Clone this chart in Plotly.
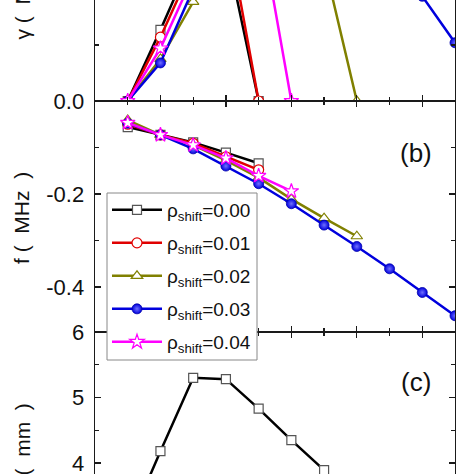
import plotly.graph_objects as go

# ---------------- data ----------------
x_all = [1, 2, 3, 4, 5, 6, 7, 8, 9, 10, 11]
series_names = ["0.00", "0.01", "0.02", "0.03", "0.04"]

# panel (a): growth rate gamma
gamma_000 = [0, 0.127, 0.26, 0.275, 0]
gamma_001 = [0, 0.114, 0.243, 0.32, 0]
gamma_002 = [0, 0.075, 0.177, 0.24, 0.27, 0.28, 0.248, 0]
gamma_003 = [0, 0.068, 0.20, 0.30, 0.37, 0.41, 0.42, 0.40, 0.33, 0.187, 0.104]
gamma_004 = [0, 0.094, 0.223, 0.30, 0.33, 0]

# panel (b): frequency f (MHz)
f_000 = [-0.056, -0.073, -0.089, -0.111, -0.134]
f_001 = [-0.050, -0.073, -0.091, -0.120, -0.148]
f_002 = [-0.041, -0.073, -0.095, -0.128, -0.165, -0.211, -0.252, -0.291]
f_003 = [-0.048, -0.073, -0.103, -0.140, -0.178, -0.221, -0.267, -0.313, -0.361, -0.412, -0.462]
f_004 = [-0.047, -0.073, -0.095, -0.123, -0.161, -0.194]

# panel (c): size (mm), rho_shift = 0.00
w_000 = [3.02, 4.18, 5.30, 5.28, 4.83, 4.35, 3.89]

gammas = [gamma_000, gamma_001, gamma_002, gamma_003, gamma_004]
freqs = [f_000, f_001, f_002, f_003, f_004]

# ---------------- styles ----------------
line_colors = ["#000000", "#e00000", "#808000", "#0000dd", "#ff00ff"]
marker_styles = [
    dict(symbol="square", color="white", size=9, line=dict(color="#555555", width=1.2)),
    dict(symbol="circle", color="white", size=10, line=dict(color="#e00000", width=1.2)),
    dict(symbol="triangle-up", color="white", size=10, line=dict(color="#808000", width=1.2)),
    dict(symbol="circle", color="#0000dd", size=10, line=dict(color="#0000aa", width=0.8),
         gradient=dict(type="radial", color="#7070ff")),
    dict(symbol="star", color="white", size=11, line=dict(color="#ff00ff", width=1.2)),
]

H = 474.0
W_PLOT = 360.0
legend_ids = ["legend", "legend2", "legend3", "legend4", "legend5"]
legend_rows_px = [210, 243, 276, 309, 342]

fig = go.Figure()

for i, name in enumerate(series_names):
    fig.add_trace(go.Scatter(
        x=x_all[:len(freqs[i])], y=freqs[i], xaxis="x2", yaxis="y2",
        mode="lines+markers", name="ρ<sub>shift</sub>=" + name,
        line=dict(color=line_colors[i], width=2.5), marker=marker_styles[i],
        showlegend=True, legend=legend_ids[i]))

for i, name in enumerate(series_names):
    fig.add_trace(go.Scatter(
        x=x_all[:len(gammas[i])], y=gammas[i], xaxis="x", yaxis="y",
        mode="lines+markers", name="ρ<sub>shift</sub>=" + name,
        line=dict(color=line_colors[i], width=2.5), marker=marker_styles[i],
        showlegend=False))

fig.add_trace(go.Scatter(
    x=x_all[:len(w_000)], y=w_000, xaxis="x3", yaxis="y3",
    mode="lines+markers", name="ρ<sub>shift</sub>=0.00",
    line=dict(color=line_colors[0], width=2.5), marker=marker_styles[0],
    showlegend=False))

d_top = [1 - 101 / H, 1]
d_mid = [1 - 332 / H, 1 - 101 / H]
d_bot = [0, 1 - 332 / H]

axcol = "#1a1a1a"
tickfont = dict(family="Liberation Sans, Arial", size=22, color="#111111")

common_x = dict(range=[0, 11], showline=True, linecolor=axcol, linewidth=1.4,
                showgrid=False, zeroline=False, showticklabels=False, automargin=False,
                ticks="inside", ticklen=6, tickwidth=1.3, tickcolor=axcol,
                tickvals=[2, 4, 6, 8, 10],
                minor=dict(tickvals=[1, 3, 5, 7, 9], ticks="inside", ticklen=4,
                           tickwidth=1.3, tickcolor=axcol))
common_y = dict(showline=True, linecolor=axcol, linewidth=1.4, mirror="ticks",
                showgrid=False, zeroline=False, ticks="inside", ticklen=6, automargin=False,
                tickwidth=1.3, tickcolor=axcol, tickfont=tickfont, ticklabelstandoff=5,
                ticklabeloverflow="allow")

leg_font = dict(family="Liberation Sans, Arial", size=19, color="#111111")
legends = {}
for k, lid in enumerate(legend_ids):
    legends[lid] = dict(x=(107 - 95) / W_PLOT, y=1 - legend_rows_px[k] / H,
                        xanchor="left", yanchor="middle", bgcolor="rgba(0,0,0,0)",
                        borderwidth=0, font=leg_font, itemwidth=50)

fig.update_layout(
    template="none",
    width=474, height=474,
    margin=dict(l=95, r=19, t=0, b=0, pad=0),
    paper_bgcolor="white", plot_bgcolor="white",
    hovermode=False,
    xaxis=dict(common_x, anchor="y", side="bottom"),
    yaxis=dict(common_y, domain=d_top, anchor="x", range=[0, 101 / 560],
               tickvals=[0.0, 0.2], ticktext=["0.0", "0.2"],
               minor=dict(tickvals=[0.1], ticks="inside", ticklen=4, tickwidth=1.3,
                          tickcolor=axcol)),
    xaxis2=dict(common_x, anchor="y2", side="bottom", mirror="ticks"),
    yaxis2=dict(common_y, domain=d_mid, anchor="x2", range=[-0.497, 0.0],
                tickvals=[-0.4, -0.2], ticktext=["-0.4", "-0.2"],
                minor=dict(tickvals=[-0.3, -0.1], ticks="inside", ticklen=4,
                           tickwidth=1.3, tickcolor=axcol)),
    xaxis3=dict(common_x, anchor="y3", side="top"),
    yaxis3=dict(common_y, domain=d_bot, anchor="x3", range=[6 - 142 / 65.5, 6],
                tickvals=[4, 5, 6], ticktext=["4", "5", "6"],
                minor=dict(tickvals=[4.5, 5.5], ticks="inside", ticklen=4,
                           tickwidth=1.3, tickcolor=axcol)),
    showlegend=True,
    **legends,
)

# legend frame
fig.add_shape(type="rect", xref="paper", yref="paper", layer="above",
              x0=(107 - 95) / W_PLOT, x1=(257 - 95) / W_PLOT,
              y0=1 - 360 / H, y1=1 - 193 / H,
              fillcolor="white", line=dict(color="#888888", width=1))

title_font = dict(family="Liberation Sans, Arial", size=21, color="#111111")
fig.add_annotation(text="γ (  MHz  )", textangle=-90, xref="paper", yref="paper",
                   x=-73 / W_PLOT, y=1 - 42 / H, xanchor="center", yanchor="bottom",
                   showarrow=False, font=title_font)
fig.add_annotation(text="f (  MHz  )", textangle=-90, xref="paper", yref="paper",
                   x=-73 / W_PLOT, y=1 - 218 / H, xanchor="center", yanchor="middle",
                   showarrow=False, font=title_font)
fig.add_annotation(text="d (  mm  )", textangle=-90, xref="paper", yref="paper",
                   x=-73 / W_PLOT, y=1 - 401 / H, xanchor="center", yanchor="top",
                   showarrow=False, font=title_font)
fig.add_annotation(text="(b)", xref="paper", yref="paper",
                   x=(416 - 95) / W_PLOT, y=1 - 153 / H, xanchor="center", yanchor="middle",
                   showarrow=False, font=dict(family="Liberation Sans, Arial", size=26, color="#111111"))
fig.add_annotation(text="(c)", xref="paper", yref="paper",
                   x=(416 - 95) / W_PLOT, y=1 - 382 / H, xanchor="center", yanchor="middle",
                   showarrow=False, font=dict(family="Liberation Sans, Arial", size=26, color="#111111"))

fig.write_html("out.html", config={"displayModeBar": False, "staticPlot": True},
               post_script="document.body.style.margin='0px';")
